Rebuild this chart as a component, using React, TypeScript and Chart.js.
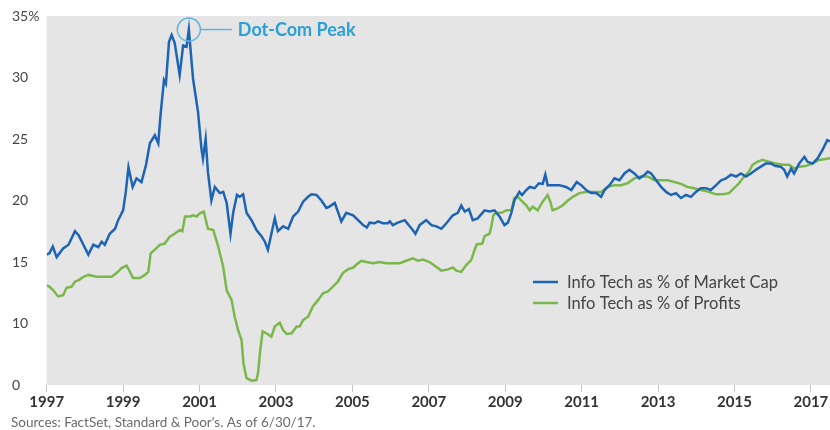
import React, { useEffect, useRef } from "react";
import { Chart, registerables, LinearScale } from "chart.js";

// ---- Data ----
const capYears = [
  1997.0, 1997.07, 1997.16, 1997.26, 1997.43, 1997.57, 1997.74, 1997.83, 1997.96, 1998.09, 1998.22, 1998.35,
  1998.44, 1998.52, 1998.65, 1998.79, 1998.87, 1999.0, 1999.07, 1999.14, 1999.25, 1999.35, 1999.48, 1999.6,
  1999.7, 1999.83, 1999.92, 1999.98, 2000.07, 2000.12, 2000.2, 2000.27, 2000.35, 2000.48, 2000.57, 2000.66,
  2000.72, 2000.83, 2000.96, 2001.05, 2001.09, 2001.16, 2001.22, 2001.31, 2001.4, 2001.53, 2001.62, 2001.71,
  2001.81, 2001.88, 2001.98, 2002.05, 2002.14, 2002.23, 2002.36, 2002.49, 2002.62, 2002.71, 2002.79, 2002.88,
  2002.97, 2003.05, 2003.19, 2003.32, 2003.45, 2003.58, 2003.71, 2003.84, 2003.93, 2004.06, 2004.19, 2004.32,
  2004.4, 2004.54, 2004.62, 2004.71, 2004.84, 2005.02, 2005.15, 2005.28, 2005.38, 2005.45, 2005.58, 2005.67,
  2005.8, 2005.93, 2005.98, 2006.06, 2006.19, 2006.37, 2006.5, 2006.58, 2006.65, 2006.76, 2006.93, 2007.07,
  2007.2, 2007.33, 2007.46, 2007.63, 2007.76, 2007.85, 2007.94, 2008.05, 2008.15, 2008.28, 2008.46, 2008.59,
  2008.72, 2008.85, 2008.98, 2009.07, 2009.16, 2009.24, 2009.37, 2009.44, 2009.55, 2009.64, 2009.77, 2009.88,
  2009.98, 2010.05, 2010.11, 2010.24, 2010.42, 2010.59, 2010.73, 2010.87, 2010.99, 2011.12, 2011.25, 2011.38,
  2011.51, 2011.6, 2011.73, 2011.86, 2011.99, 2012.12, 2012.25, 2012.38, 2012.51, 2012.65, 2012.73, 2012.82,
  2012.95, 2013.08, 2013.21, 2013.34, 2013.47, 2013.6, 2013.73, 2013.86, 2013.99, 2014.12, 2014.25, 2014.38,
  2014.52, 2014.65, 2014.78, 2014.91, 2015.04, 2015.17, 2015.3, 2015.43, 2015.56, 2015.69, 2015.82, 2015.95,
  2016.08, 2016.21, 2016.3, 2016.38, 2016.48, 2016.56, 2016.69, 2016.83, 2016.91, 2017.04, 2017.17, 2017.3,
  2017.43, 2017.5,
];
const capValues = [
  15.6, 15.7, 16.25, 15.4, 16.1, 16.4, 17.5, 17.2, 16.4, 15.6, 16.4, 16.2,
  16.65, 16.4, 17.3, 17.7, 18.4, 19.2, 20.7, 22.7, 21.1, 21.8, 21.5, 22.9,
  24.65, 25.3, 24.65, 27.0, 29.8, 29.5, 32.9, 33.45, 32.8, 30.2, 32.6, 32.5,
  33.9, 29.9, 27.2, 24.2, 23.4, 25.0, 22.3, 20.0, 21.1, 20.6, 20.7, 19.8,
  17.3, 19.0, 20.45, 20.3, 20.5, 19.0, 18.4, 17.6, 17.1, 16.65, 16.0, 17.3,
  18.55, 17.5, 17.9, 17.7, 18.7, 19.1, 19.9, 20.3, 20.5, 20.45, 20.0, 19.4,
  19.5, 19.8, 19.1, 18.3, 19.0, 18.8, 18.4, 18.0, 17.8, 18.2, 18.15, 18.3,
  18.15, 18.15, 18.3, 18.0, 18.2, 18.4, 17.9, 17.6, 17.3, 18.0, 18.4, 18.0,
  17.9, 17.7, 18.15, 18.8, 19.0, 19.6, 19.1, 19.3, 18.4, 18.55, 19.2, 19.1,
  19.2, 18.7, 18.0, 18.2, 19.0, 20.0, 20.7, 20.45, 20.85, 21.1, 21.0, 21.4,
  21.35, 22.1, 21.25, 21.25, 21.25, 21.1, 20.85, 21.5, 21.25, 20.85, 20.6, 20.6,
  20.3, 20.85, 21.25, 21.8, 21.65, 22.2, 22.5, 22.2, 21.8, 22.1, 22.35, 22.2,
  21.65, 21.1, 20.7, 20.45, 20.6, 20.2, 20.45, 20.3, 20.7, 21.0, 21.0, 20.85,
  21.25, 21.65, 21.8, 22.1, 21.95, 22.2, 21.95, 22.2, 22.5, 22.75, 23.0, 23.0,
  22.8, 22.75, 22.5, 21.95, 22.6, 22.2, 23.0, 23.55, 23.15, 23.0, 23.4, 24.1,
  24.9, 24.8,
];

const profitYears = [
  1997.0, 1997.07, 1997.17, 1997.3, 1997.43, 1997.52, 1997.65, 1997.74, 1997.85, 1997.96, 1998.09, 1998.31,
  1998.57, 1998.7, 1998.83, 1998.96, 1999.09, 1999.18, 1999.26, 1999.44, 1999.57, 1999.66, 1999.72, 1999.83,
  1999.96, 2000.09, 2000.22, 2000.35, 2000.48, 2000.55, 2000.62, 2000.75, 2000.83, 2000.92, 2001.01, 2001.11,
  2001.22, 2001.36, 2001.49, 2001.62, 2001.71, 2001.84, 2001.92, 2002.01, 2002.1, 2002.15, 2002.23, 2002.36,
  2002.49, 2002.53, 2002.59, 2002.65, 2002.75, 2002.88, 2002.97, 2003.1, 2003.19, 2003.28, 2003.41, 2003.54,
  2003.62, 2003.71, 2003.84, 2003.97, 2004.1, 2004.23, 2004.36, 2004.49, 2004.62, 2004.75, 2004.88, 2005.02,
  2005.15, 2005.24, 2005.37, 2005.54, 2005.71, 2005.89, 2006.06, 2006.24, 2006.41, 2006.58, 2006.72, 2006.85,
  2007.02, 2007.2, 2007.33, 2007.5, 2007.63, 2007.72, 2007.85, 2007.98, 2008.11, 2008.2, 2008.26, 2008.4,
  2008.46, 2008.59, 2008.63, 2008.69, 2008.76, 2008.9, 2009.03, 2009.16, 2009.24, 2009.33, 2009.42, 2009.55,
  2009.64, 2009.72, 2009.85, 2009.98, 2010.11, 2010.18, 2010.24, 2010.37, 2010.5, 2010.64, 2010.77, 2010.94,
  2011.12, 2011.33, 2011.51, 2011.68, 2011.86, 2012.03, 2012.2, 2012.38, 2012.55, 2012.73, 2012.9, 2013.08,
  2013.25, 2013.43, 2013.6, 2013.77, 2013.95, 2014.12, 2014.33, 2014.52, 2014.69, 2014.86, 2014.99, 2015.12,
  2015.25, 2015.38, 2015.47, 2015.6, 2015.73, 2015.9, 2016.08, 2016.25, 2016.43, 2016.56, 2016.69, 2016.86,
  2017.04, 2017.21, 2017.43, 2017.5,
];
const profitValues = [
  13.1, 13.0, 12.7, 12.2, 12.3, 12.9, 13.0, 13.4, 13.55, 13.8, 13.95, 13.8,
  13.8, 13.8, 14.1, 14.5, 14.7, 14.2, 13.7, 13.7, 13.95, 14.2, 15.7, 16.0,
  16.4, 16.5, 17.05, 17.3, 17.6, 17.5, 18.7, 18.7, 18.8, 18.7, 18.95, 19.1,
  17.7, 17.6, 16.25, 14.6, 12.7, 11.9, 10.55, 8.9, 7.3, 3.5, 1.1, 0.7,
  0.8, 1.9, 5.7, 8.7, 8.4, 7.85, 9.5, 10.07, 8.9, 8.3, 8.4, 9.5,
  9.5, 10.28, 10.55, 11.4, 11.9, 12.45, 12.6, 13.0, 13.4, 14.1, 14.4, 14.55,
  14.9, 15.1, 15.0, 14.9, 15.0, 14.9, 14.9, 14.9, 15.1, 15.3, 15.1, 15.2,
  15.0, 14.6, 14.3, 14.4, 14.55, 14.3, 14.2, 14.75, 15.15, 16.0, 16.45, 16.5,
  17.1, 17.3, 17.8, 18.8, 19.0, 19.0, 19.2, 19.2, 20.2, 20.3, 20.0, 19.6,
  19.2, 19.5, 19.2, 19.9, 20.45, 19.9, 19.2, 19.35, 19.6, 20.0, 20.3, 20.6,
  20.7, 20.7, 20.7, 21.1, 21.25, 21.25, 21.4, 21.8, 21.95, 21.95, 21.65, 21.65,
  21.65, 21.5, 21.35, 21.1, 21.0, 20.85, 20.7, 20.5, 20.5, 20.6, 21.0, 21.4,
  21.95, 22.35, 22.9, 23.15, 23.3, 23.15, 23.0, 22.9, 22.9, 22.6, 22.75, 22.8,
  23.0, 23.3, 23.4, 23.45,
];

const seriesLabels = ["Info Tech as % of Market Cap", "Info Tech as % of Profits"];
const xTickYears = [1997, 1999, 2001, 2003, 2005, 2007, 2009, 2011, 2013, 2015, 2017];
const yTickValues = [0, 10, 15, 20, 25, 30, 35];
const annotationText = "Dot-Com Peak";
const sourceText = "Sources: FactSet, Standard & Poor's. As of 6/30/17.";

// Axis break: values below 10 are drawn at half scale (0 sits where 5 would be)
const Y_BREAK = 10;
const Y_BREAK_BASE = 5;

class BrokenLinearScale extends LinearScale {
  static id = "brokenLinear";
  static defaults = LinearScale.defaults;
  getPixelForValue(value: any) {
    if (value === null || value === undefined || isNaN(value)) return NaN;
    const v = value < Y_BREAK ? Y_BREAK_BASE + (value * (Y_BREAK - Y_BREAK_BASE)) / Y_BREAK : value;
    return super.getPixelForValue(v);
  }
  getValueForPixel(pixel: number) {
    const v = super.getValueForPixel(pixel) as number;
    return v < Y_BREAK ? ((v - Y_BREAK_BASE) * Y_BREAK) / (Y_BREAK - Y_BREAK_BASE) : v;
  }
}

Chart.register(...registerables, BrokenLinearScale as any);

const BLUE = "#1e64b4";
const GREEN = "#7ab84b";
const FONT = "Lato, 'Open Sans', sans-serif";

export default function App() {
  const canvasRef = useRef<HTMLCanvasElement | null>(null);

  useEffect(() => {
    document.body.style.margin = "0";
    const canvas = canvasRef.current;
    if (!canvas) return;

    const bgPlugin = {
      id: "plotBg",
      beforeDraw(chart: any) {
        const { ctx, chartArea } = chart;
        ctx.save();
        ctx.fillStyle = "#e5e5e5";
        ctx.fillRect(chartArea.left, chartArea.top, chartArea.right - chartArea.left, chartArea.bottom - chartArea.top);
        ctx.restore();
      },
    };

    const overlayPlugin = {
      id: "overlay",
      afterDraw(chart: any) {
        const { ctx, scales } = chart;
        const xs = scales.x;
        const ys = scales.y;
        ctx.save();

        // Dot-Com peak annotation
        let pi = 0;
        capValues.forEach((v, i) => {
          if (v > capValues[pi]) pi = i;
        });
        const cx = xs.getPixelForValue(capYears[pi]);
        const cy = ys.getPixelForValue(capValues[pi]);
        const r = 11.5;
        ctx.strokeStyle = "#5fb4de";
        ctx.lineWidth = 1.5;
        ctx.beginPath();
        ctx.arc(cx, cy, r, 0, Math.PI * 2);
        ctx.stroke();
        ctx.beginPath();
        ctx.moveTo(cx + r, cy);
        ctx.lineTo(cx + 43, cy);
        ctx.stroke();
        ctx.fillStyle = "#2a9fd8";
        ctx.font = `bold 18px ${FONT}`;
        ctx.textBaseline = "middle";
        ctx.textAlign = "left";
        ctx.fillText(annotationText, cx + 49, cy + 1);

        // Legend
        const colors = [BLUE, GREEN];
        const legendX = 533;
        const legendY = [282, 303];
        ctx.font = `16.5px ${FONT}`;
        seriesLabels.forEach((label, i) => {
          ctx.strokeStyle = colors[i];
          ctx.lineWidth = 2.5;
          ctx.beginPath();
          ctx.moveTo(legendX, legendY[i]);
          ctx.lineTo(legendX + 25, legendY[i]);
          ctx.stroke();
          ctx.fillStyle = "#444444";
          ctx.fillText(label, legendX + 34, legendY[i] + 1);
        });

        // Source footer
        ctx.font = `13.5px ${FONT}`;
        ctx.fillStyle = "#6b6b6b";
        ctx.fillText(sourceText, 11, 423);
        ctx.restore();
      },
    };

    const chart = new Chart(canvas, {
      type: "line",
      data: {
        datasets: [
          {
            label: seriesLabels[0],
            data: capYears.map((x, i) => ({ x, y: capValues[i] })),
            borderColor: BLUE,
            borderWidth: 2.5,
            pointRadius: 0,
            tension: 0,
            fill: false,
            order: 1,
          },
          {
            label: seriesLabels[1],
            data: profitYears.map((x, i) => ({ x, y: profitValues[i] })),
            borderColor: GREEN,
            borderWidth: 2.5,
            pointRadius: 0,
            tension: 0,
            fill: false,
            order: 2,
          },
        ],
      },
      options: {
        animation: false,
        responsive: false,
        devicePixelRatio: 1,
        layout: { padding: { left: 12, right: 0, top: 16, bottom: 0 } },
        plugins: { legend: { display: false }, tooltip: { enabled: false } },
        scales: {
          x: {
            type: "linear",
            min: 1997,
            max: 2017.5,
            afterBuildTicks: (scale: any) => {
              scale.ticks = xTickYears.map((value) => ({ value }));
            },
            afterFit: (scale: any) => {
              scale.height = 45;
            },
            grid: { display: true, drawOnChartArea: false, drawTicks: true, tickLength: 7, color: "#c4c4c4" },
            border: { display: false },
            ticks: {
              autoSkip: false,
              maxRotation: 0,
              padding: 1,
              color: "#333333",
              font: { family: FONT, size: 15, weight: "bold" },
              callback: (v: any) => String(v),
            },
          },
          y: {
            type: "brokenLinear" as any,
            min: 5,
            max: 35,
            afterBuildTicks: (scale: any) => {
              scale.ticks = yTickValues.map((value) => ({ value }));
            },
            afterFit: (scale: any) => {
              scale.width = 34.7;
            },
            grid: { display: false },
            border: { display: false },
            ticks: {
              autoSkip: false,
              crossAlign: "far",
              color: "#444444",
              font: { family: FONT, size: 14 },
              callback: (v: any) => (v === 35 ? "35%" : String(v)),
            },
          },
        },
      } as any,
      plugins: [bgPlugin, overlayPlugin],
    });

    return () => chart.destroy();
  }, []);

  return (
    <div style={{ width: 830, height: 430, position: "relative" }}>
      <canvas ref={canvasRef} width={830} height={430} style={{ display: "block", width: 830, height: 430 }} />
    </div>
  );
}
